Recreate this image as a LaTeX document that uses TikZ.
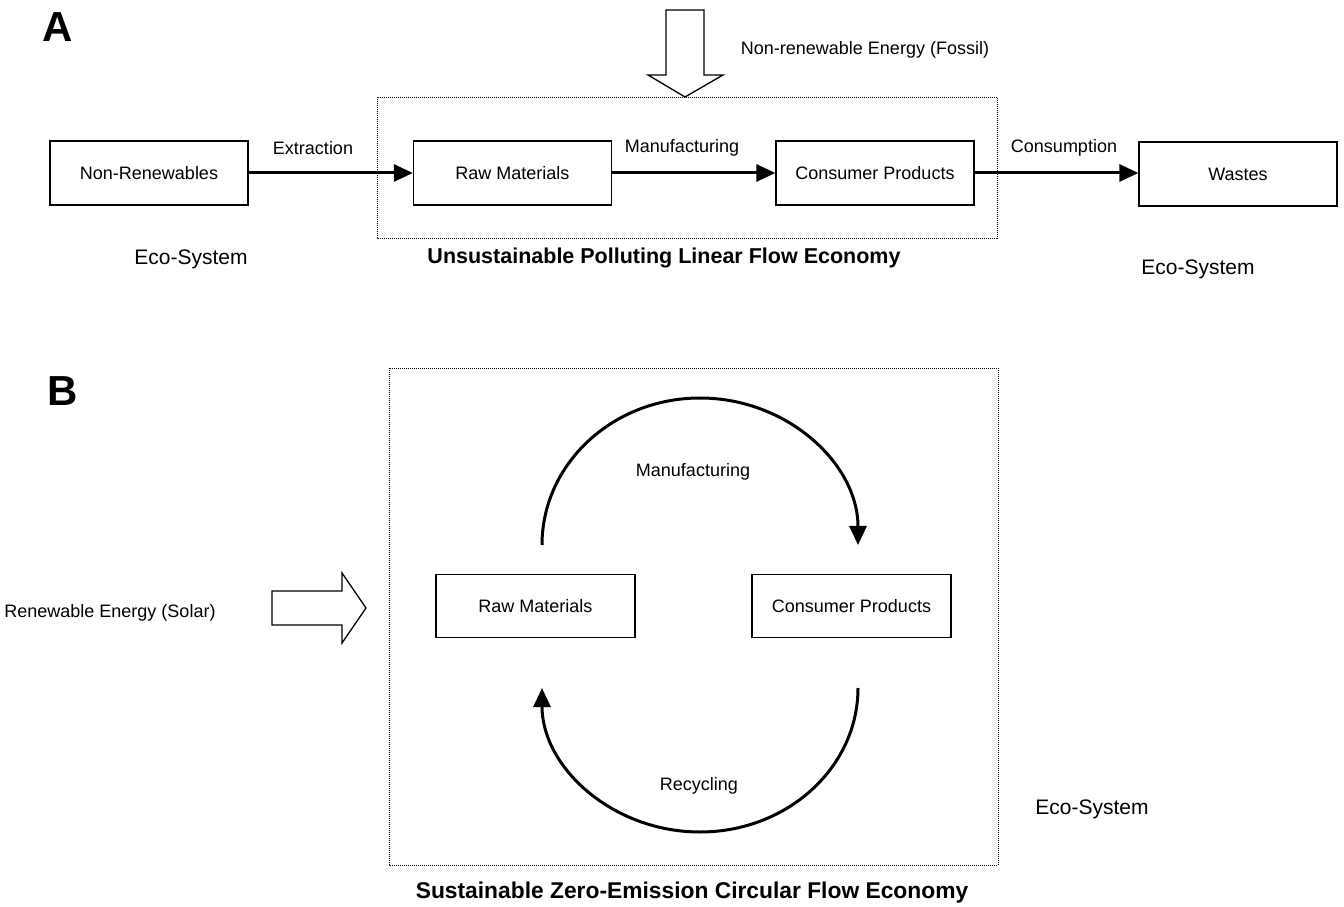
\documentclass[tikz,border=0pt]{standalone}
\usepackage{fontspec}
\setmainfont{Liberation Sans}
\usetikzlibrary{arrows.meta}
\begin{document}
\begin{tikzpicture}[x=1pt,y=1pt,
  txt/.style={font=\fontsize{18}{21}\selectfont, inner sep=0pt},
  eco/.style={font=\fontsize{21}{24}\selectfont, inner sep=0pt},
  ttl/.style={font=\fontsize{21.5}{24}\selectfont\bfseries, inner sep=0pt},
  big/.style={font=\fontsize{42}{44}\selectfont\bfseries, inner sep=0pt},
  boxa/.style={draw, line width=1.3pt, minimum width=198pt, minimum height=64pt, font=\fontsize{18}{21}\selectfont, inner sep=0pt},
  dotbox/.style={draw, line width=0.9pt, dash pattern=on 1pt off 1pt},
  flow/.style={line width=3pt, -{Triangle[length=19pt,width=17pt]}},
  blockarrow/.style={draw, line width=1.3pt, fill=white, line join=miter}
]
\useasboundingbox (0,0) rectangle (1344,906);

% ---------- Part A ----------
\node[big] (labA) at (58,879) {A};
\draw[dotbox] (377,809) rectangle (997,668);
\node[boxa] (nr) at (149,733) {Non-Renewables};
\node[boxa] (rawA) at (512.5,733) {Raw Materials};
\node[boxa] (cpA) at (875,733) {Consumer Products};
\node[boxa] (waste) at (1238,732) {Wastes};
\draw[flow] (nr) -- (rawA);
\draw[flow] (rawA) -- (cpA);
\draw[flow] (cpA) -- (waste.west |- cpA.east);
\node[txt] (lext) at (313,758) {Extraction};
\node[txt] (lman) at (682,758) {Manufacturing};
\node[txt] (lcon) at (1064,758) {Consumption};
\node[eco] (eco1) at (191,647) {Eco-System};
\node[eco] (eco2) at (1198,637) {Eco-System};
\node[ttl] (titA) at (664,648) {Unsustainable Polluting Linear Flow Economy};
\draw[blockarrow] (666,896) -- (704,896) -- (704,831) -- (723,831) -- (685,809) -- (648,831) -- (666,831) -- cycle;
\node[txt] (fossil) at (865,856) {Non-renewable Energy (Fossil)};

% ---------- Part B ----------
\node[big] (labB) at (63,515) {B};
\draw[dotbox] (389,538) rectangle (998,41);
\node[boxa, minimum width=199pt, minimum height=63pt] (rawB) at (535.5,300) {Raw Materials};
\node[boxa, minimum width=199pt, minimum height=63pt] (cpB) at (851.5,300) {Consumer Products};
\coordinate (t1) at (542,361);
\coordinate (b1) at (858,218);
\draw[flow] (t1) arc[start angle=180, end angle=0, x radius=158, y radius=147];
\draw[flow] (b1) arc[start angle=0, end angle=-180, x radius=158, y radius=144];
\node[txt] (lman2) at (693,434) {Manufacturing};
\node[txt] (lrec) at (699,120) {Recycling};
\node[txt] (solar) at (110,293) {Renewable Energy (Solar)};
\draw[blockarrow] (272,315) -- (342,315) -- (342,333) -- (366,298) -- (342,263) -- (342,281) -- (272,281) -- cycle;
\node[eco] (eco3) at (1092,97) {Eco-System};
\node[ttl, font=\fontsize{22.8}{25}\selectfont\bfseries] (titB) at (692,13) {Sustainable Zero-Emission Circular Flow Economy};
\end{tikzpicture}
\end{document}
